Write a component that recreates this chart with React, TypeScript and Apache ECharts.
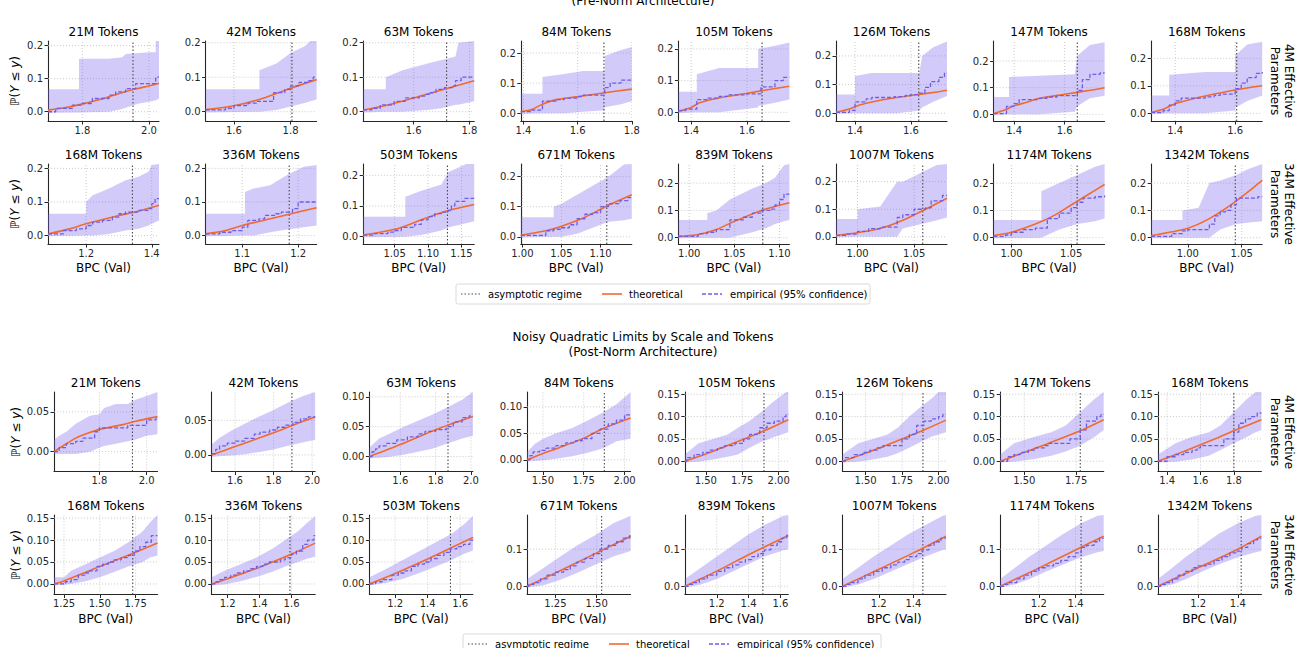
import { useEffect, useRef } from 'react';
import * as echarts from 'echarts';

const FONT = 'DejaVu Sans';
const AX = '#262626';

// panel titles (same 16 token counts in both sections)
const tokenLabels = ['21M', '42M', '63M', '84M', '105M', '126M', '147M', '168M',
    '168M', '336M', '503M', '671M', '839M', '1007M', '1174M', '1342M'];
const rowLabels = ['4M Effective\nParameters', '34M Effective\nParameters'];

// ---------- Pre-Norm section (16 panels) ----------
const preXRange = [[1.697, 2.03], [1.5, 1.892], [1.419, 1.817], [1.39, 1.8], [1.354, 1.752], [1.332, 1.729], [1.319, 1.758], [1.32, 1.69],
    [1.084, 1.422], [1.0345, 1.233], [1.003, 1.169], [0.998, 1.14], [0.988, 1.111], [0.981, 1.079], [0.985, 1.078], [0.966, 1.069]];
const preYRange = [[-0.028, 0.214], [-0.027, 0.205], [-0.027, 0.205], [-0.026, 0.24], [-0.0275, 0.225], [-0.027, 0.252], [-0.025, 0.275], [-0.028, 0.263],
    [-0.025, 0.213], [-0.025, 0.213], [-0.024, 0.237], [-0.024, 0.242], [-0.023, 0.27], [-0.026, 0.264], [-0.023, 0.27], [-0.023, 0.27]];
const preXTicks = [['1.8', '2.0'], ['1.6', '1.8'], ['1.6', '1.8'], ['1.4', '1.6', '1.8'], ['1.4', '1.6'], ['1.4', '1.6'], ['1.4', '1.6'], ['1.4', '1.6'],
    ['1.2', '1.4'], ['1.1', '1.2'], ['1.05', '1.10', '1.15'], ['1.00', '1.05', '1.10'], ['1.00', '1.05', '1.10'], ['1.00', '1.05'], ['1.00', '1.05'], ['1.00', '1.05']];
const preYTicks = Array.from({ length: 16 }, () => ['0.0', '0.1', '0.2']);
const preAsymptote = [1.952, 1.805, 1.718, 1.697, 1.654, 1.628, 1.65, 1.605, 1.341, 1.184, 1.129, 1.108, 1.0815, 1.0576, 1.055, 1.044];

const preTheory = [
    [[1.697, 0.005], [1.75, 0.013], [1.785, 0.02], [1.855, 0.038], [1.9, 0.052], [1.955, 0.068], [2.0, 0.078], [2.03, 0.086]],
    [[1.5, 0.006], [1.6, 0.017], [1.7, 0.038], [1.8, 0.068], [1.892, 0.093]],
    [[1.419, 0.005], [1.5, 0.018], [1.6, 0.04], [1.7, 0.063], [1.817, 0.09]],
    [[1.39, 0.005], [1.43, 0.012], [1.47, 0.03], [1.52, 0.045], [1.6, 0.055], [1.7, 0.068], [1.8, 0.08]],
    [[1.354, 0.003], [1.4, 0.015], [1.43, 0.03], [1.5, 0.045], [1.6, 0.06], [1.7, 0.075], [1.752, 0.082]],
    [[1.332, 0.003], [1.38, 0.015], [1.42, 0.03], [1.5, 0.047], [1.6, 0.062], [1.7, 0.075], [1.729, 0.08]],
    [[1.319, 0.003], [1.36, 0.015], [1.4, 0.032], [1.45, 0.045], [1.5, 0.06], [1.6, 0.075], [1.7, 0.09], [1.758, 0.1]],
    [[1.32, 0.003], [1.36, 0.015], [1.4, 0.035], [1.45, 0.05], [1.5, 0.063], [1.6, 0.085], [1.69, 0.1]],
    [[1.084, 0.005], [1.15, 0.02], [1.2, 0.035], [1.3, 0.06], [1.35, 0.07], [1.422, 0.09]],
    [[1.0345, 0.005], [1.07, 0.015], [1.1, 0.03], [1.15, 0.05], [1.2, 0.07], [1.233, 0.083]],
    [[1.003, 0.005], [1.03, 0.015], [1.06, 0.03], [1.09, 0.055], [1.13, 0.085], [1.169, 0.105]],
    [[0.998, 0.005], [1.03, 0.02], [1.05, 0.035], [1.08, 0.065], [1.11, 0.105], [1.14, 0.14]],
    [[0.988, 0.005], [1.01, 0.012], [1.03, 0.03], [1.05, 0.06], [1.08, 0.1], [1.111, 0.128]],
    [[0.981, 0.005], [1.0, 0.015], [1.02, 0.03], [1.04, 0.06], [1.06, 0.1], [1.079, 0.14]],
    [[0.985, 0.008], [1.0, 0.02], [1.02, 0.05], [1.035, 0.08], [1.05, 0.12], [1.065, 0.16], [1.078, 0.195]],
    [[0.966, 0.008], [1.0, 0.035], [1.02, 0.07], [1.04, 0.12], [1.055, 0.165], [1.069, 0.21]],
];

const preEmpirical = [
    [[1.697, 0.0], [1.72, 0.01], [1.77, 0.02], [1.8, 0.025], [1.83, 0.04], [1.88, 0.05], [1.9, 0.06], [1.93, 0.07], [1.96, 0.085], [2.02, 0.105], [2.03, 0.105]],
    [[1.5, 0.005], [1.57, 0.01], [1.6, 0.018], [1.65, 0.025], [1.68, 0.03], [1.74, 0.055], [1.78, 0.065], [1.8, 0.075], [1.83, 0.085], [1.86, 0.09], [1.88, 0.1], [1.892, 0.1]],
    [[1.419, 0.005], [1.45, 0.01], [1.48, 0.02], [1.53, 0.03], [1.57, 0.04], [1.62, 0.045], [1.64, 0.05], [1.66, 0.055], [1.68, 0.065], [1.71, 0.07], [1.74, 0.075], [1.75, 0.09], [1.77, 0.1], [1.817, 0.1]],
    [[1.39, 0.005], [1.43, 0.01], [1.47, 0.04], [1.52, 0.045], [1.55, 0.05], [1.6, 0.055], [1.62, 0.06], [1.7, 0.085], [1.72, 0.1], [1.76, 0.11], [1.8, 0.11]],
    [[1.354, 0.005], [1.38, 0.01], [1.42, 0.04], [1.46, 0.045], [1.5, 0.05], [1.53, 0.055], [1.6, 0.058], [1.65, 0.08], [1.7, 0.1], [1.73, 0.11], [1.752, 0.11]],
    [[1.332, 0.003], [1.38, 0.01], [1.4, 0.04], [1.44, 0.05], [1.46, 0.055], [1.54, 0.058], [1.58, 0.062], [1.6, 0.065], [1.63, 0.07], [1.65, 0.09], [1.67, 0.11], [1.7, 0.125], [1.72, 0.14], [1.729, 0.14]],
    [[1.319, 0.003], [1.37, 0.03], [1.4, 0.04], [1.42, 0.055], [1.5, 0.06], [1.53, 0.065], [1.57, 0.07], [1.65, 0.09], [1.67, 0.13], [1.7, 0.15], [1.74, 0.155], [1.758, 0.155]],
    [[1.32, 0.003], [1.36, 0.01], [1.38, 0.03], [1.4, 0.045], [1.42, 0.055], [1.5, 0.06], [1.53, 0.065], [1.55, 0.07], [1.6, 0.09], [1.62, 0.11], [1.64, 0.13], [1.67, 0.145], [1.69, 0.15]],
    [[1.084, 0.005], [1.13, 0.015], [1.17, 0.02], [1.2, 0.03], [1.22, 0.04], [1.25, 0.045], [1.28, 0.055], [1.3, 0.065], [1.32, 0.07], [1.36, 0.075], [1.39, 0.08], [1.4, 0.095], [1.41, 0.11], [1.422, 0.11]],
    [[1.0345, 0.005], [1.06, 0.01], [1.08, 0.015], [1.1, 0.025], [1.11, 0.045], [1.13, 0.05], [1.14, 0.06], [1.16, 0.065], [1.17, 0.07], [1.19, 0.08], [1.2, 0.1], [1.233, 0.1]],
    [[1.003, 0.005], [1.02, 0.01], [1.04, 0.015], [1.05, 0.02], [1.06, 0.03], [1.08, 0.04], [1.09, 0.055], [1.1, 0.065], [1.11, 0.075], [1.12, 0.08], [1.13, 0.085], [1.135, 0.1], [1.14, 0.115], [1.155, 0.125], [1.169, 0.125]],
    [[0.998, 0.005], [1.03, 0.02], [1.04, 0.025], [1.05, 0.03], [1.06, 0.04], [1.07, 0.06], [1.08, 0.075], [1.09, 0.08], [1.1, 0.1], [1.11, 0.11], [1.125, 0.12], [1.135, 0.13], [1.14, 0.13]],
    [[0.988, 0.005], [1.01, 0.015], [1.02, 0.02], [1.03, 0.03], [1.045, 0.065], [1.06, 0.075], [1.07, 0.09], [1.08, 0.1], [1.09, 0.105], [1.095, 0.12], [1.1, 0.14], [1.105, 0.16], [1.111, 0.16]],
    [[0.981, 0.005], [0.99, 0.01], [1.0, 0.02], [1.01, 0.03], [1.02, 0.035], [1.035, 0.07], [1.04, 0.08], [1.05, 0.1], [1.06, 0.105], [1.065, 0.13], [1.075, 0.15], [1.079, 0.15]],
    [[0.985, 0.005], [0.995, 0.01], [1.0, 0.02], [1.01, 0.03], [1.02, 0.035], [1.03, 0.07], [1.04, 0.09], [1.05, 0.11], [1.055, 0.13], [1.06, 0.145], [1.07, 0.15], [1.078, 0.155]],
    [[0.966, 0.005], [0.985, 0.015], [0.995, 0.025], [1.0, 0.03], [1.02, 0.05], [1.025, 0.08], [1.03, 0.095], [1.035, 0.1], [1.04, 0.12], [1.045, 0.145], [1.065, 0.15], [1.069, 0.15]],
];

// confidence band: [x, lower, upper]
const preBand = [
    [[1.697, -0.003, 0.068], [1.79, -0.002, 0.068], [1.79, -0.002, 0.16], [1.88, 0.0, 0.16], [1.92, 0.008, 0.165], [1.93, 0.012, 0.175], [1.97, 0.025, 0.178], [2.0, 0.03, 0.18], [2.02, 0.035, 0.18], [2.02, 0.035, 0.214], [2.03, 0.04, 0.214]],
    [[1.5, -0.002, 0.065], [1.69, 0.0, 0.065], [1.69, 0.0, 0.12], [1.75, 0.005, 0.14], [1.8, 0.015, 0.17], [1.85, 0.025, 0.19], [1.87, 0.03, 0.205], [1.892, 0.035, 0.205]],
    [[1.419, -0.002, 0.065], [1.5, 0.0, 0.065], [1.5, 0.0, 0.1], [1.56, 0.0, 0.12], [1.65, 0.005, 0.14], [1.7, 0.01, 0.15], [1.75, 0.02, 0.16], [1.76, 0.02, 0.2], [1.817, 0.03, 0.205]],
    [[1.39, -0.002, 0.065], [1.47, 0.0, 0.065], [1.47, 0.0, 0.12], [1.55, 0.0, 0.13], [1.62, 0.005, 0.14], [1.7, 0.01, 0.14], [1.7, 0.02, 0.19], [1.76, 0.03, 0.21], [1.8, 0.04, 0.22]],
    [[1.354, -0.002, 0.065], [1.42, 0.0, 0.065], [1.42, 0.0, 0.12], [1.5, 0.0, 0.14], [1.64, 0.015, 0.14], [1.64, 0.02, 0.2], [1.7, 0.03, 0.21], [1.752, 0.04, 0.22]],
    [[1.332, -0.002, 0.065], [1.4, 0.0, 0.065], [1.4, 0.0, 0.13], [1.46, 0.0, 0.14], [1.55, 0.0, 0.14], [1.63, 0.01, 0.14], [1.64, 0.02, 0.2], [1.68, 0.04, 0.23], [1.729, 0.06, 0.25]],
    [[1.319, -0.002, 0.065], [1.38, 0.0, 0.065], [1.38, 0.0, 0.14], [1.5, 0.0, 0.145], [1.64, 0.01, 0.15], [1.65, 0.03, 0.22], [1.7, 0.06, 0.26], [1.758, 0.07, 0.27]],
    [[1.32, -0.002, 0.065], [1.38, 0.0, 0.065], [1.38, 0.0, 0.14], [1.5, 0.0, 0.15], [1.6, 0.01, 0.15], [1.6, 0.02, 0.21], [1.64, 0.045, 0.25], [1.69, 0.065, 0.26]],
    [[1.084, -0.002, 0.065], [1.2, 0.0, 0.065], [1.2, 0.0, 0.1], [1.22, 0.0, 0.12], [1.27, 0.005, 0.14], [1.32, 0.015, 0.165], [1.36, 0.02, 0.175], [1.39, 0.03, 0.19], [1.4, 0.035, 0.21], [1.422, 0.045, 0.213]],
    [[1.0345, -0.002, 0.065], [1.105, 0.0, 0.065], [1.105, 0.0, 0.13], [1.12, 0.0, 0.14], [1.15, 0.01, 0.15], [1.18, 0.018, 0.18], [1.21, 0.025, 0.205], [1.233, 0.03, 0.21]],
    [[1.003, -0.002, 0.065], [1.066, 0.0, 0.065], [1.066, 0.0, 0.13], [1.09, 0.005, 0.15], [1.12, 0.02, 0.17], [1.13, 0.03, 0.21], [1.16, 0.045, 0.24], [1.169, 0.05, 0.24]],
    [[0.998, -0.002, 0.065], [1.04, 0.0, 0.065], [1.04, 0.0, 0.1], [1.05, 0.0, 0.11], [1.07, 0.01, 0.14], [1.09, 0.03, 0.17], [1.11, 0.05, 0.2], [1.13, 0.055, 0.24], [1.14, 0.06, 0.242]],
    [[0.988, -0.002, 0.065], [1.02, 0.0, 0.065], [1.02, 0.0, 0.09], [1.03, 0.0, 0.1], [1.045, 0.0, 0.14], [1.07, 0.02, 0.18], [1.085, 0.035, 0.2], [1.095, 0.05, 0.22], [1.105, 0.06, 0.265], [1.111, 0.065, 0.27]],
    [[0.981, -0.002, 0.065], [1.0, 0.0, 0.065], [1.0, 0.0, 0.1], [1.02, 0.0, 0.11], [1.035, 0.0, 0.2], [1.04, 0.03, 0.2], [1.05, 0.04, 0.22], [1.06, 0.05, 0.24], [1.07, 0.06, 0.26], [1.079, 0.07, 0.264]],
    [[0.985, -0.002, 0.065], [1.025, 0.0, 0.065], [1.025, 0.0, 0.17], [1.04, 0.03, 0.2], [1.055, 0.05, 0.23], [1.07, 0.06, 0.26], [1.078, 0.07, 0.27]],
    [[0.966, -0.002, 0.065], [0.995, 0.0, 0.065], [0.995, 0.0, 0.1], [1.01, 0.0, 0.11], [1.02, 0.0, 0.2], [1.03, 0.03, 0.21], [1.045, 0.05, 0.23], [1.055, 0.055, 0.25], [1.069, 0.06, 0.27]],
];

// ---------- Post-Norm section (16 panels) ----------
const postXRange = [[1.608, 2.046], [1.479, 2.016], [1.425, 2.011], [1.403, 2.037], [1.356, 2.066], [1.342, 2.051], [1.384, 1.883], [1.345, 1.965],
    [1.18, 1.903], [1.1, 1.748], [1.042, 1.678], [1.079, 1.705], [0.999, 1.65], [0.99, 1.589], [0.99, 1.553], [0.997, 1.519]];
const postYRange = [[-0.025, 0.075], [-0.024, 0.091], [-0.025, 0.108], [-0.022, 0.128], [-0.023, 0.155], [-0.023, 0.155], [-0.023, 0.155], [-0.023, 0.155],
    [-0.024, 0.157], [-0.024, 0.157], [-0.024, 0.157], [-0.022, 0.192], [-0.022, 0.192], [-0.022, 0.192], [-0.022, 0.192], [-0.022, 0.192]];
const postXTicks = [['1.6', '1.8', '2.0'], ['1.6', '1.8', '2.0'], ['1.6', '1.8', '2.0'], ['1.50', '1.75', '2.00'], ['1.50', '1.75', '2.00'], ['1.50', '1.75', '2.00'], ['1.50', '1.75'], ['1.4', '1.6', '1.8'],
    ['1.25', '1.50', '1.75'], ['1.2', '1.4', '1.6'], ['1.2', '1.4', '1.6'], ['1.25', '1.50'], ['1.2', '1.4', '1.6'], ['1.2', '1.4'], ['1.2', '1.4'], ['1.2', '1.4']];
const postYTicks = [['0.00', '0.05'], ['0.00', '0.05'], ['0.00', '0.05', '0.10'], ['0.00', '0.05', '0.10'],
    ['0.00', '0.05', '0.10', '0.15'], ['0.00', '0.05', '0.10', '0.15'], ['0.00', '0.05', '0.10', '0.15'], ['0.00', '0.05', '0.10', '0.15'],
    ['0.00', '0.05', '0.10', '0.15'], ['0.00', '0.05', '0.10', '0.15'], ['0.00', '0.05', '0.10', '0.15'],
    ['0.0', '0.1'], ['0.0', '0.1'], ['0.0', '0.1'], ['0.0', '0.1'], ['0.0', '0.1']];
const postAsymptote = [1.94, 1.895, 1.87, 1.876, 1.899, 1.893, 1.77, 1.8, 1.73, 1.59, 1.54, 1.53, 1.49, 1.455, 1.43, 1.417];

const postTheory = [
    [[1.608, 0.0], [1.65, 0.008], [1.7, 0.017], [1.75, 0.023], [1.8, 0.028], [1.9, 0.034], [1.95, 0.038], [2.046, 0.044]],
    [[1.479, 0.0], [1.6, 0.012], [1.7, 0.022], [1.8, 0.032], [1.9, 0.043], [2.016, 0.055]],
    [[1.425, 0.0], [1.6, 0.02], [1.8, 0.045], [2.011, 0.067]],
    [[1.403, 0.0], [1.5, 0.012], [1.6, 0.023], [1.75, 0.041], [1.876, 0.06], [2.037, 0.079]],
    [[1.356, 0.0], [1.5, 0.016], [1.75, 0.048], [1.9, 0.068], [2.066, 0.093]],
    [[1.342, 0.0], [1.5, 0.018], [1.75, 0.05], [1.9, 0.07], [2.051, 0.092]],
    [[1.384, 0.0], [1.5, 0.02], [1.6, 0.037], [1.77, 0.068], [1.883, 0.093]],
    [[1.345, 0.0], [1.5, 0.022], [1.7, 0.052], [1.8, 0.068], [1.965, 0.093]],
    [[1.18, 0.0], [1.25, 0.007], [1.5, 0.04], [1.75, 0.072], [1.903, 0.093]],
    [[1.1, 0.0], [1.2, 0.012], [1.4, 0.038], [1.6, 0.068], [1.748, 0.093]],
    [[1.042, 0.0], [1.2, 0.024], [1.4, 0.057], [1.6, 0.092], [1.678, 0.106]],
    [[1.079, 0.0], [1.25, 0.036], [1.5, 0.09], [1.705, 0.135]],
    [[0.999, 0.0], [1.2, 0.041], [1.4, 0.085], [1.65, 0.137]],
    [[0.99, 0.0], [1.2, 0.046], [1.4, 0.09], [1.589, 0.135]],
    [[0.99, 0.0], [1.2, 0.049], [1.4, 0.098], [1.553, 0.135]],
    [[0.997, 0.0], [1.2, 0.05], [1.4, 0.1], [1.519, 0.135]],
];

const postEmpirical = [
    [[1.608, 0.0], [1.63, 0.005], [1.66, 0.01], [1.7, 0.013], [1.73, 0.017], [1.78, 0.025], [1.8, 0.03], [1.92, 0.033], [2.0, 0.04], [2.04, 0.042], [2.046, 0.042]],
    [[1.479, 0.002], [1.5, 0.008], [1.52, 0.013], [1.56, 0.017], [1.6, 0.02], [1.65, 0.024], [1.7, 0.03], [1.73, 0.033], [1.78, 0.036], [1.82, 0.04], [1.86, 0.043], [1.9, 0.047], [1.94, 0.052], [1.98, 0.055], [2.016, 0.055]],
    [[1.425, 0.0], [1.44, 0.008], [1.46, 0.013], [1.48, 0.018], [1.52, 0.022], [1.58, 0.028], [1.64, 0.033], [1.7, 0.038], [1.74, 0.042], [1.8, 0.045], [1.86, 0.05], [1.9, 0.058], [1.95, 0.065], [1.99, 0.068], [2.011, 0.068]],
    [[1.403, 0.0], [1.42, 0.008], [1.44, 0.015], [1.48, 0.018], [1.52, 0.022], [1.58, 0.027], [1.64, 0.032], [1.7, 0.036], [1.74, 0.04], [1.8, 0.05], [1.85, 0.058], [1.9, 0.068], [1.95, 0.075], [2.0, 0.085], [2.037, 0.085]],
    [[1.356, 0.0], [1.37, 0.008], [1.42, 0.015], [1.48, 0.02], [1.53, 0.025], [1.58, 0.03], [1.63, 0.035], [1.7, 0.04], [1.76, 0.05], [1.8, 0.06], [1.87, 0.075], [1.92, 0.085], [1.97, 0.09], [2.03, 0.1], [2.05, 0.105], [2.066, 0.105]],
    [[1.342, 0.0], [1.36, 0.008], [1.42, 0.015], [1.48, 0.02], [1.53, 0.025], [1.58, 0.03], [1.62, 0.035], [1.75, 0.05], [1.8, 0.06], [1.85, 0.08], [1.9, 0.09], [1.95, 0.095], [2.0, 0.1], [2.03, 0.105], [2.051, 0.105]],
    [[1.384, 0.0], [1.42, 0.01], [1.45, 0.015], [1.48, 0.02], [1.52, 0.025], [1.55, 0.03], [1.6, 0.035], [1.62, 0.04], [1.72, 0.05], [1.77, 0.07], [1.8, 0.09], [1.85, 0.1], [1.87, 0.105], [1.883, 0.105]],
    [[1.345, 0.0], [1.4, 0.01], [1.45, 0.015], [1.5, 0.02], [1.55, 0.025], [1.58, 0.03], [1.6, 0.035], [1.74, 0.05], [1.8, 0.065], [1.83, 0.085], [1.87, 0.095], [1.9, 0.1], [1.94, 0.108], [1.965, 0.108]],
    [[1.18, 0.0], [1.26, 0.005], [1.3, 0.01], [1.35, 0.02], [1.4, 0.025], [1.43, 0.03], [1.48, 0.04], [1.52, 0.045], [1.56, 0.05], [1.6, 0.055], [1.65, 0.06], [1.7, 0.065], [1.74, 0.075], [1.78, 0.085], [1.82, 0.095], [1.86, 0.11], [1.903, 0.11]],
    [[1.1, 0.0], [1.12, 0.005], [1.15, 0.01], [1.18, 0.015], [1.22, 0.02], [1.26, 0.025], [1.3, 0.03], [1.34, 0.035], [1.38, 0.04], [1.42, 0.045], [1.46, 0.05], [1.53, 0.055], [1.56, 0.06], [1.6, 0.068], [1.63, 0.075], [1.67, 0.09], [1.7, 0.1], [1.74, 0.11], [1.748, 0.11]],
    [[1.042, 0.0], [1.08, 0.005], [1.12, 0.01], [1.18, 0.02], [1.22, 0.025], [1.26, 0.03], [1.3, 0.04], [1.34, 0.045], [1.38, 0.05], [1.42, 0.058], [1.46, 0.065], [1.5, 0.072], [1.54, 0.08], [1.58, 0.085], [1.62, 0.09], [1.66, 0.1], [1.678, 0.107]],
    [[1.079, 0.0], [1.09, 0.005], [1.12, 0.01], [1.16, 0.02], [1.2, 0.03], [1.25, 0.038], [1.3, 0.045], [1.34, 0.055], [1.38, 0.065], [1.43, 0.075], [1.48, 0.088], [1.52, 0.1], [1.57, 0.11], [1.62, 0.12], [1.66, 0.13], [1.7, 0.14], [1.705, 0.14]],
    [[0.999, 0.0], [1.02, 0.005], [1.05, 0.01], [1.09, 0.02], [1.14, 0.03], [1.2, 0.04], [1.25, 0.05], [1.3, 0.058], [1.34, 0.065], [1.38, 0.072], [1.42, 0.08], [1.46, 0.088], [1.5, 0.098], [1.54, 0.11], [1.58, 0.12], [1.61, 0.13], [1.64, 0.138], [1.65, 0.138]],
    [[0.99, 0.0], [1.01, 0.005], [1.04, 0.01], [1.08, 0.02], [1.12, 0.03], [1.17, 0.04], [1.22, 0.05], [1.27, 0.058], [1.31, 0.065], [1.35, 0.072], [1.38, 0.08], [1.42, 0.088], [1.45, 0.098], [1.49, 0.11], [1.52, 0.12], [1.56, 0.13], [1.589, 0.13]],
    [[0.99, 0.0], [1.01, 0.005], [1.04, 0.01], [1.08, 0.02], [1.12, 0.03], [1.16, 0.04], [1.2, 0.05], [1.24, 0.055], [1.28, 0.062], [1.32, 0.07], [1.36, 0.08], [1.4, 0.09], [1.43, 0.105], [1.46, 0.11], [1.5, 0.12], [1.53, 0.13], [1.553, 0.13]],
    [[0.997, 0.0], [1.01, 0.005], [1.04, 0.01], [1.07, 0.02], [1.1, 0.03], [1.13, 0.04], [1.17, 0.05], [1.2, 0.055], [1.24, 0.06], [1.28, 0.07], [1.32, 0.08], [1.36, 0.09], [1.39, 0.095], [1.42, 0.105], [1.45, 0.115], [1.48, 0.125], [1.5, 0.13], [1.519, 0.13]],
];

const postBand = [
    [[1.608, -0.003, 0.015], [1.63, -0.003, 0.02], [1.66, -0.003, 0.025], [1.7, -0.003, 0.035], [1.76, 0.0, 0.045], [1.8, 0.005, 0.047], [1.82, 0.007, 0.055], [1.87, 0.01, 0.06], [1.92, 0.013, 0.06], [1.95, 0.015, 0.065], [2.0, 0.02, 0.07], [2.046, 0.022, 0.075]],
    [[1.479, -0.003, 0.015], [1.52, -0.002, 0.025], [1.58, -0.001, 0.035], [1.65, 0.001, 0.045], [1.72, 0.004, 0.055], [1.8, 0.008, 0.065], [1.87, 0.013, 0.075], [1.95, 0.018, 0.085], [2.016, 0.022, 0.091]],
    [[1.425, -0.003, 0.015], [1.48, -0.002, 0.03], [1.55, 0.0, 0.04], [1.62, 0.003, 0.05], [1.7, 0.008, 0.06], [1.78, 0.013, 0.07], [1.85, 0.02, 0.08], [1.95, 0.03, 0.095], [2.011, 0.035, 0.108]],
    [[1.403, -0.003, 0.015], [1.45, -0.002, 0.03], [1.5, -0.001, 0.04], [1.58, 0.002, 0.05], [1.68, 0.007, 0.06], [1.78, 0.014, 0.075], [1.87, 0.022, 0.09], [1.95, 0.035, 0.105], [2.037, 0.04, 0.128]],
    [[1.356, -0.003, 0.015], [1.45, -0.001, 0.04], [1.55, 0.004, 0.05], [1.65, 0.01, 0.06], [1.72, 0.015, 0.075], [1.8, 0.03, 0.09], [1.88, 0.043, 0.11], [1.95, 0.052, 0.13], [2.05, 0.063, 0.155], [2.066, 0.065, 0.155]],
    [[1.342, -0.003, 0.015], [1.45, -0.001, 0.04], [1.55, 0.004, 0.05], [1.65, 0.01, 0.06], [1.72, 0.018, 0.075], [1.8, 0.03, 0.1], [1.87, 0.042, 0.12], [1.95, 0.055, 0.14], [2.0, 0.06, 0.155], [2.051, 0.065, 0.155]],
    [[1.384, -0.003, 0.015], [1.45, -0.001, 0.04], [1.55, 0.005, 0.055], [1.63, 0.012, 0.065], [1.7, 0.022, 0.08], [1.77, 0.035, 0.11], [1.84, 0.055, 0.14], [1.883, 0.07, 0.155]],
    [[1.345, -0.003, 0.015], [1.45, -0.001, 0.04], [1.55, 0.004, 0.055], [1.65, 0.012, 0.065], [1.72, 0.025, 0.08], [1.8, 0.04, 0.11], [1.88, 0.055, 0.14], [1.93, 0.065, 0.155], [1.965, 0.07, 0.155]],
    [[1.18, -0.003, 0.015], [1.25, -0.002, 0.015], [1.3, 0.0, 0.03], [1.4, 0.006, 0.045], [1.5, 0.015, 0.06], [1.6, 0.027, 0.075], [1.7, 0.04, 0.095], [1.8, 0.05, 0.12], [1.85, 0.06, 0.14], [1.903, 0.065, 0.157]],
    [[1.1, -0.003, 0.015], [1.18, -0.001, 0.03], [1.28, 0.006, 0.045], [1.38, 0.016, 0.06], [1.48, 0.028, 0.08], [1.56, 0.04, 0.1], [1.64, 0.05, 0.12], [1.7, 0.058, 0.14], [1.748, 0.062, 0.155]],
    [[1.042, -0.003, 0.015], [1.15, 0.003, 0.035], [1.25, 0.012, 0.055], [1.35, 0.025, 0.075], [1.45, 0.04, 0.095], [1.55, 0.055, 0.115], [1.62, 0.068, 0.135], [1.678, 0.076, 0.155]],
    [[1.079, -0.003, 0.02], [1.18, 0.003, 0.05], [1.28, 0.018, 0.08], [1.38, 0.036, 0.11], [1.5, 0.06, 0.14], [1.6, 0.08, 0.17], [1.705, 0.095, 0.19]],
    [[0.999, -0.003, 0.02], [1.1, 0.005, 0.05], [1.2, 0.02, 0.08], [1.3, 0.04, 0.11], [1.4, 0.06, 0.14], [1.5, 0.08, 0.165], [1.62, 0.097, 0.19], [1.65, 0.1, 0.192]],
    [[0.99, -0.003, 0.02], [1.08, 0.005, 0.05], [1.17, 0.02, 0.08], [1.27, 0.04, 0.11], [1.37, 0.06, 0.14], [1.47, 0.08, 0.165], [1.57, 0.098, 0.19], [1.589, 0.1, 0.192]],
    [[0.99, -0.003, 0.02], [1.07, 0.005, 0.05], [1.15, 0.02, 0.08], [1.24, 0.04, 0.11], [1.33, 0.058, 0.14], [1.43, 0.078, 0.17], [1.52, 0.092, 0.19], [1.553, 0.095, 0.192]],
    [[0.997, -0.003, 0.02], [1.07, 0.005, 0.05], [1.14, 0.02, 0.08], [1.22, 0.04, 0.11], [1.3, 0.058, 0.14], [1.4, 0.078, 0.17], [1.49, 0.092, 0.19], [1.519, 0.095, 0.192]],
];

const xRange = [...preXRange, ...postXRange];
const yRange = [...preYRange, ...postYRange];
const xTicks = [...preXTicks, ...postXTicks];
const yTicks = [...preYTicks, ...postYTicks];
const asymptote = [...preAsymptote, ...postAsymptote];
const theory = [...preTheory, ...postTheory];
const empirical = [...preEmpirical, ...postEmpirical];
const band = [...preBand, ...postBand];

// pixel box of each small panel
function panelBox(i: number) {
    const j = i % 16;
    const row = Math.floor(j / 8);
    const col = j % 8;
    if (i < 16) return { left: 48 + col * 157.6, top: row === 0 ? 41 : 164, width: 111, height: 80 };
    return { left: 54 + col * 157.7, top: row === 0 ? 392 : 515, width: 103.5, height: 79.5 };
}

const labelFor = (labels: string[]) => (v: number) => {
    const l = labels.find((s) => Math.abs(parseFloat(s) - v) < 1e-6);
    return l === undefined ? '' : l;
};

function bandRenderer(i: number) {
    return (params: any, api: any) => {
        if (params.dataIndex !== 0) return null;
        const [x0, x1] = xRange[i];
        const [y0, y1] = yRange[i];
        const children: any[] = [];
        const gridStyle = { stroke: '#bdbdbd', lineWidth: 0.8, lineDash: [1, 2] };
        xTicks[i].forEach((t) => {
            const a = api.coord([parseFloat(t), y0]);
            const b = api.coord([parseFloat(t), y1]);
            children.push({ type: 'line', shape: { x1: a[0], y1: a[1], x2: b[0], y2: b[1] }, style: gridStyle });
        });
        yTicks[i].forEach((t) => {
            const a = api.coord([x0, parseFloat(t)]);
            const b = api.coord([x1, parseFloat(t)]);
            children.push({ type: 'line', shape: { x1: a[0], y1: a[1], x2: b[0], y2: b[1] }, style: gridStyle });
        });
        const pts = band[i];
        const upper = pts.map((p) => api.coord([p[0], p[2]]));
        const lower = pts.slice().reverse().map((p) => api.coord([p[0], p[1]]));
        children.push({
            type: 'polygon',
            shape: { points: upper.concat(lower) },
            style: { fill: 'rgba(123,104,238,0.34)' },
        });
        const a = api.coord([asymptote[i], y0]);
        const b = api.coord([asymptote[i], y1]);
        children.push({
            type: 'line',
            shape: { x1: a[0], y1: a[1], x2: b[0], y2: b[1] },
            style: { stroke: '#4a4a4a', lineWidth: 1.1, lineDash: [1.5, 2] },
        });
        return { type: 'group', children };
    };
}

function txt(x: number, y: number, text: string, size: number, extra: any = {}) {
    return {
        type: 'text', x, y, silent: true, ...extra,
        style: {
            text, fontSize: size, fontFamily: FONT, fill: '#000',
            align: 'center', verticalAlign: 'middle', textAlign: 'center', textVerticalAlign: 'middle',
            ...(extra.style || {}),
        },
    };
}

function legend(bx: number, by: number, bw: number) {
    const cy = by + 10;
    const items: any[] = [
        { type: 'rect', shape: { x: bx, y: by, width: bw, height: 20, r: 2 }, style: { fill: 'rgba(255,255,255,0.85)', stroke: '#d0d0d0', lineWidth: 0.8 } },
        { type: 'line', shape: { x1: bx + 5, y1: cy, x2: bx + 25, y2: cy }, style: { stroke: '#4a4a4a', lineWidth: 1.1, lineDash: [1.5, 2] } },
        { type: 'line', shape: { x1: bx + 146, y1: cy, x2: bx + 166, y2: cy }, style: { stroke: '#f26a2c', lineWidth: 1.6 } },
        { type: 'line', shape: { x1: bx + 246, y1: cy, x2: bx + 266, y2: cy }, style: { stroke: '#6f5de8', lineWidth: 1.3, lineDash: [4, 2] } },
    ];
    const labels: [number, string][] = [[32, 'asymptotic regime'], [173, 'theoretical'], [274, 'empirical (95% confidence)']];
    labels.forEach(([dx, t]) => {
        items.push(txt(bx + dx, cy, t, 10, { style: { align: 'left', textAlign: 'left' } }));
    });
    return items;
}

const App = () => {
    const chartRef = useRef<HTMLDivElement>(null);

    useEffect(() => {
        const chart = echarts.init(chartRef.current, null, { renderer: 'svg' });

        const grid: any[] = [];
        const xAxis: any[] = [];
        const yAxis: any[] = [];
        const series: any[] = [];
        const graphic: any[] = [];

        for (let i = 0; i < 32; i++) {
            const box = panelBox(i);
            const row = Math.floor((i % 16) / 8);
            grid.push({ ...box, containLabel: false });
            const axisLine = { show: true, onZero: false, lineStyle: { color: AX, width: 1.1 } };
            const axisTick = (vals: string[]) => ({ show: true, customValues: vals.map(Number), length: 3.5, lineStyle: { color: AX, width: 1 } });
            xAxis.push({
                type: 'value', gridIndex: i, min: xRange[i][0], max: xRange[i][1],
                axisLine, axisTick: axisTick(xTicks[i]), splitLine: { show: false },
                axisLabel: { customValues: xTicks[i].map(Number), formatter: labelFor(xTicks[i]), fontSize: 10, color: AX, margin: 4, fontFamily: FONT },
                name: row === 1 ? 'BPC (Val)' : '', nameLocation: 'middle', nameGap: 18,
                nameTextStyle: { fontSize: 12, color: '#000', fontFamily: FONT },
            });
            yAxis.push({
                type: 'value', gridIndex: i, min: yRange[i][0], max: yRange[i][1],
                axisLine, axisTick: axisTick(yTicks[i]), splitLine: { show: false },
                axisLabel: { customValues: yTicks[i].map(Number), formatter: labelFor(yTicks[i]), fontSize: 10, color: AX, margin: 5, fontFamily: FONT },
            });
            series.push({
                type: 'custom', xAxisIndex: i, yAxisIndex: i, clip: true, silent: true, z: 1,
                data: band[i], encode: { x: 0, y: [1, 2] }, renderItem: bandRenderer(i),
            });
            series.push({
                type: 'line', xAxisIndex: i, yAxisIndex: i, data: theory[i], smooth: 0.25,
                symbol: 'none', silent: true, z: 3, lineStyle: { color: '#f26a2c', width: 1.6 },
            });
            series.push({
                type: 'line', xAxisIndex: i, yAxisIndex: i, data: empirical[i], step: 'end',
                symbol: 'none', silent: true, z: 4, lineStyle: { color: '#6f5de8', width: 1.3, type: [4, 2] },
            });
            graphic.push(txt(box.left + box.width / 2, box.top - 9.5, `${tokenLabels[i % 16]} Tokens`, 12));
        }

        // row labels and y-axis names
        const rowCenters = [81, 204, 432, 555];
        rowCenters.forEach((cy, r) => {
            graphic.push(txt(1282, cy, rowLabels[r % 2], 12, { rotation: -Math.PI / 2, style: { lineHeight: 14 } }));
            graphic.push(txt(r < 2 ? 15 : 16, cy, '{d|ℙ}({i|Y} ≤ {i|y})', 12, {
                rotation: Math.PI / 2,
                style: { rich: { d: { fontSize: 12, fontFamily: FONT }, i: { fontSize: 12, fontFamily: FONT, fontStyle: 'italic' } } },
            }));
        });

        // section titles
        graphic.push(txt(643, 0.5, '(Pre-Norm Architecture)', 12));
        graphic.push(txt(643, 337, 'Noisy Quadratic Limits by Scale and Tokens', 12));
        graphic.push(txt(643, 352, '(Post-Norm Architecture)', 12));

        graphic.push(...legend(456, 284, 414));
        graphic.push(...legend(463, 634, 418));

        chart.setOption({
            animation: false,
            backgroundColor: '#ffffff',
            textStyle: { fontFamily: FONT },
            grid, xAxis, yAxis, series, graphic,
        });

        return () => {
            chart.dispose();
        };
    }, []);

    return <div ref={chartRef} style={{ position: 'fixed', left: 0, top: 0, width: 1298, height: 648 }} />;
};

export default App;
